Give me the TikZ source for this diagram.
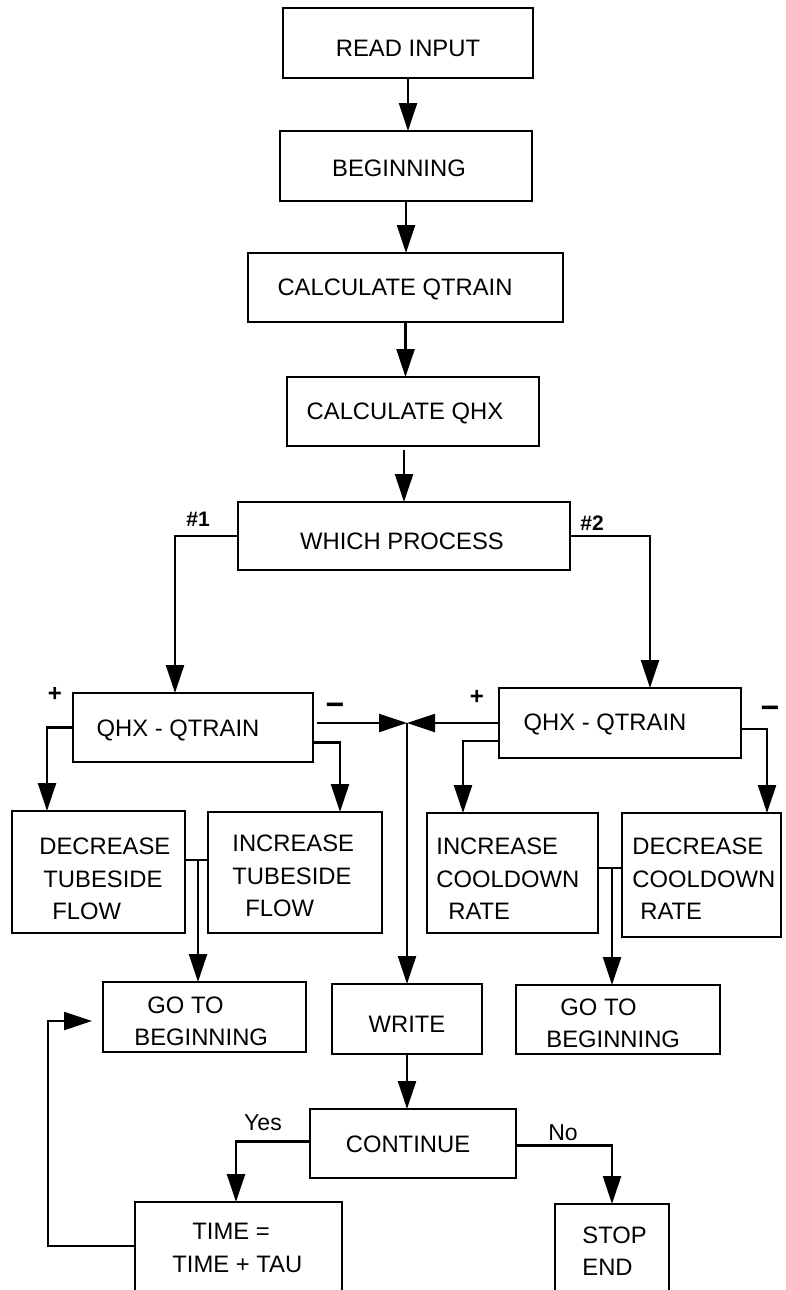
\documentclass[tikz,border=0pt]{standalone}
\usepackage{fontspec}
\setmainfont{Liberation Sans}
\usetikzlibrary{arrows.meta,calc}
\begin{document}
\begin{tikzpicture}[x=0.5pt,y=-0.5pt,
  box/.style={draw,line width=1.2pt,rectangle,anchor=north west,inner sep=0pt,outer sep=0pt},
  txt/.style={inner sep=0pt,font=\fontsize{11.9}{16.2}\selectfont},
  mtxt/.style={txt,align=left,anchor=west},
  lbl/.style={inner sep=0pt,font=\fontsize{10.5}{12}\selectfont\bfseries},
  sgn/.style={inner sep=0pt,font=\fontsize{12}{12}\selectfont\bfseries},
  msgn/.style={inner sep=0pt,font=\fontsize{16}{16}\selectfont\bfseries},
  yn/.style={inner sep=0pt,font=\fontsize{11.5}{13}\selectfont},
  conn/.style={line width=1.2pt},
  arr/.style={conn,-{Triangle[length=14pt,width=9pt]}}
]
\useasboundingbox (0,0) rectangle (786,1290);
\clip (0,0) rectangle (786,1290);

% boxes
\node[box,minimum width=125pt,minimum height=35pt] (read) at (283,8) {};
\node[box,minimum width=126pt,minimum height=35pt] (beg) at (280,131) {};
\node[box,minimum width=157.5pt,minimum height=34.5pt] (cqt) at (248,253) {};
\node[box,minimum width=126pt,minimum height=34.5pt] (cqhx) at (287,377) {};
\node[box,minimum width=166pt,minimum height=34pt] (which) at (238,502) {};
\node[box,minimum width=120pt,minimum height=34.5pt] (ql) at (73,693) {};
\node[box,minimum width=121pt,minimum height=35pt] (qr) at (499,688) {};
\node[box,minimum width=86.5pt,minimum height=61pt] (dt) at (12,811) {};
\node[box,minimum width=87pt,minimum height=60.5pt] (it) at (208,812) {};
\node[box,minimum width=85.5pt,minimum height=60pt] (ic) at (427,813) {};
\node[box,minimum width=79.5pt,minimum height=62pt] (dc) at (622,813) {};
\node[box,minimum width=101.5pt,minimum height=35pt] (gl) at (103,982) {};
\node[box,minimum width=75pt,minimum height=35pt] (write) at (332,984) {};
\node[box,minimum width=102pt,minimum height=34.5pt] (gr) at (516,985) {};
\node[box,minimum width=103pt,minimum height=34.5pt] (cont) at (310,1109) {};
\node[box,minimum width=103.5pt,minimum height=49pt] (time) at (135,1202) {};
\node[box,minimum width=57pt,minimum height=48pt] (stop) at (555,1204) {};

% texts
\node[txt] (tread) at (408,48) {READ INPUT};
\node[txt] (tbeg) at (399,168) {BEGINNING};
\node[txt] (tcqt) at (395,289) {CALCULATE QTRAIN};
\node[txt] (tcqhx) at (405,413) {CALCULATE QHX};
\node[txt] (twhich) at (402,541) {WHICH PROCESS};
\node[txt] (tql) at (178,730) {QHX - QTRAIN};
\node[txt] (tqr) at (605,724) {QHX - QTRAIN};
\node[mtxt] (tdt) at (39,879) {DECREASE\\\hspace*{2pt}TUBESIDE\\\hspace*{6.5pt}FLOW};
\node[mtxt] (tit) at (232,876) {INCREASE\\TUBESIDE\\\hspace*{6.5pt}FLOW};
\node[mtxt] (tic) at (436,879) {INCREASE\\COOLDOWN\\\hspace*{6pt}RATE};
\node[mtxt] (tdc) at (632,879) {DECREASE\\COOLDOWN\\\hspace*{4pt}RATE};
\node[mtxt] (tgl) at (134,1021) {\hspace*{6.5pt}GO TO\\BEGINNING};
\node[txt] (twrite) at (407,1024) {WRITE};
\node[mtxt] (tgr) at (546,1023) {\hspace*{7pt}GO TO\\BEGINNING};
\node[txt] (tcont) at (408,1144) {CONTINUE};
\node[mtxt] (ttime) at (172,1248) {\hspace*{10pt}TIME =\\TIME + TAU};
\node[mtxt] (tstop) at (582,1251) {STOP\\END};

% labels
\node[lbl] (l1) at (198,519) {\#1};
\node[lbl] (l2) at (592,523) {\#2};
\node[sgn] (p1) at (55,694) {+};
\node[msgn] (m1l) at (335,709) {−};
\node[sgn] (p2) at (477,697) {+};
\node[msgn] (m2l) at (770,712) {−};
\node[yn] (lyes) at (263,1123) {Yes};
\node[yn] (lno) at (563,1133) {No};

% connectors
\coordinate (j) at (407,723);
\coordinate (mA) at (198,860);
\coordinate (mB) at (612,868);

\draw[arr] (read.south) -- (read.south |- beg.north);
\draw[arr] (beg.south) -- (beg.south |- cqt.north);
\draw[arr] (cqt.south) -- (cqt.south |- cqhx.north);
\draw[arr] ([yshift=-2pt]which.north |- cqhx.south) -- (which.north);
\draw[arr] (which.west) -| ([xshift=-9pt]ql.north);
\draw[arr] (which.east) -| ([xshift=15pt]qr.north);
\draw[arr] (ql.west) -| ([xshift=-25.75pt]dt.north);
\draw[arr] ([yshift=-7.5pt]ql.east) -| ([xshift=22.5pt]it.north);
\draw[arr] ([xshift=2pt,yshift=2.25pt]ql.east) -- (j);
\draw[arr] (qr.west) -- (j);
\draw[arr] (j) -- (j |- write.north);
\draw[arr] ([yshift=-9pt]qr.west) -| ([xshift=-24.75pt]ic.north);
\draw[arr] ([yshift=-3pt]qr.east) -| ([xshift=32.75pt]dc.north);
\draw[conn] ([yshift=6pt]dt.east) -- ([yshift=6pt]dt.east -| it.west);
\draw[arr] (mA) -- (mA |- gl.north);
\draw[conn] ([yshift=2.5pt]ic.east) -- ([yshift=2.5pt]ic.east -| dc.west);
\draw[arr] (mB) -- (mB |- gr.north);
\draw[arr] (write.south) -- (write.south |- cont.north);
\draw[arr] ([yshift=1pt]cont.west) -| ([xshift=-1.25pt]time.north);
\draw[arr] ([yshift=-1pt]cont.east) -| (stop.north);
\draw[arr] ([yshift=2.5pt]time.west) -- ++(-87,0) |- ([xshift=-5.5pt,yshift=-2pt]gl.west);
\end{tikzpicture}
\end{document}
